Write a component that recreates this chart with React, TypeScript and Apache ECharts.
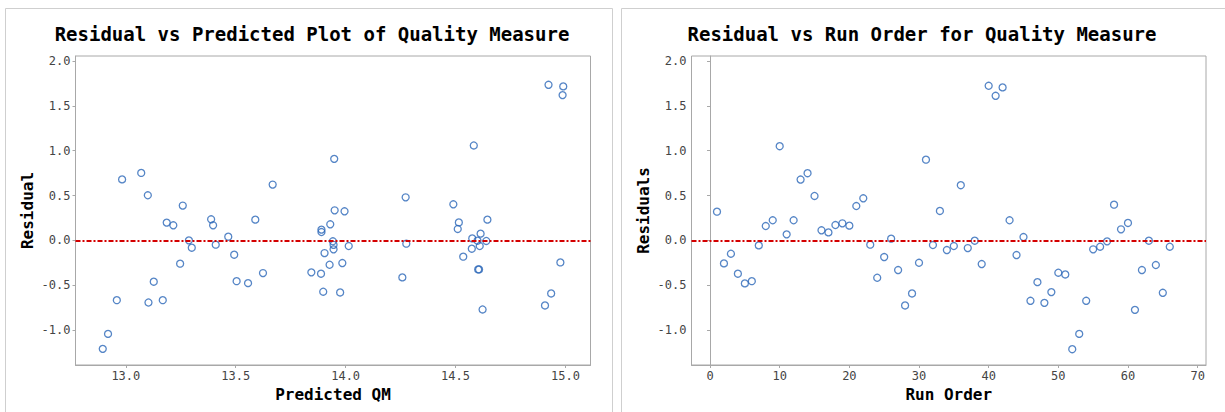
import React, { useEffect, useRef } from "react";
import * as echarts from "echarts";

// Left plot: predicted QM vs residual
const predictedQM = [
  12.895, 12.919, 12.959, 12.983, 13.07, 13.1, 13.103, 13.127, 13.168, 13.186,
  13.216, 13.247, 13.259, 13.287, 13.3, 13.388, 13.397, 13.409, 13.466, 13.493,
  13.504, 13.556, 13.589, 13.624, 13.668, 13.844, 13.888, 13.89, 13.89, 13.898,
  13.904, 13.927, 13.93, 13.942, 13.945, 13.945, 13.948, 13.95, 13.975, 13.985,
  13.995, 14.014, 14.258, 14.273, 14.276, 14.49, 14.51, 14.515, 14.535, 14.574,
  14.576, 14.583, 14.6, 14.603, 14.607, 14.61, 14.614, 14.623, 14.64, 14.645,
  14.907, 14.923, 14.935, 14.977, 14.987, 14.99,
];
const residualVsPred = [
  -1.21, -1.043, -0.667, 0.68, 0.752, 0.503, -0.693, -0.461, -0.667, 0.198,
  0.168, -0.26, 0.388, 0.0, -0.082, 0.235, 0.168, -0.048, 0.041, -0.16,
  -0.455, -0.477, 0.231, -0.365, 0.622, -0.357, -0.372, 0.12, 0.093, -0.573,
  -0.142, -0.272, 0.179, -0.01, -0.05, -0.1, 0.909, 0.335, -0.581, -0.253,
  0.324, -0.063, -0.413, 0.48, -0.037, 0.402, 0.127, 0.2, -0.182, -0.093,
  0.022, 1.058, -0.004, -0.324, -0.324, -0.063, 0.075, -0.771, -0.007, 0.231,
  -0.726, 1.735, -0.592, -0.246, 1.62, 1.717,
];

// Right plot: run order vs residual
const runOrder = [
  1, 2, 3, 4, 5, 6, 7, 8, 9, 10, 11, 12, 13, 14, 15, 16, 17, 18, 19, 20, 21, 22,
  23, 24, 25, 26, 27, 28, 29, 30, 31, 32, 33, 34, 35, 36, 37, 38, 39, 40, 41, 42,
  43, 44, 45, 46, 47, 48, 49, 50, 51, 52, 53, 54, 55, 56, 57, 58, 59, 60, 61, 62,
  63, 64, 65, 66,
];
const residualByRun = [
  0.32, -0.257, -0.149, -0.372, -0.48, -0.455, -0.056, 0.16, 0.224, 1.05,
  0.067, 0.224, 0.678, 0.749, 0.495, 0.112, 0.089, 0.171, 0.19, 0.164,
  0.383, 0.469, -0.048, -0.417, -0.186, 0.019, -0.331, -0.726, -0.592, -0.25,
  0.9, -0.052, 0.328, -0.108, -0.063, 0.615, -0.086, -0.004, -0.264, 1.724,
  1.612, 1.706, 0.224, -0.164, 0.037, -0.674, -0.466, -0.697, -0.577, -0.361,
  -0.38, -1.214, -1.043, -0.674, -0.1, -0.071, -0.011, 0.398, 0.123, 0.194,
  -0.775, -0.331, -0.004, -0.275, -0.585, -0.071,
];

const yTicks = [-1, -0.5, 0, 0.5, 1, 1.5, 2];
const predTicks = [13, 13.5, 14, 14.5, 15];
const runTicks = [0, 10, 20, 30, 40, 50, 60, 70];

const titles = [
  "Residual vs Predicted Plot of Quality Measure",
  "Residual vs Run Order for Quality Measure",
];

const MONO = "'DejaVu Sans Mono', 'Liberation Mono', monospace";
const AXIS_GRAY = "#a8a8a8";
const MARK = "#2a66b8";

function xAxisCfg(gridIndex: number, min: number, max: number, ticks: number[], name: string, dec: number) {
  return {
    type: "value",
    gridIndex,
    min,
    max,
    name,
    nameLocation: "middle",
    nameGap: 15,
    nameTextStyle: { fontFamily: MONO, fontWeight: "bold", fontSize: 16, color: "#000" },
    axisLine: { show: true, onZero: false, lineStyle: { color: AXIS_GRAY } },
    axisTick: { show: true, length: 3, customValues: ticks, lineStyle: { color: AXIS_GRAY } },
    axisLabel: {
      customValues: ticks,
      formatter: (v: number) => v.toFixed(dec),
      fontFamily: MONO,
      fontSize: 12,
      color: "#444",
      margin: 5,
    },
    splitLine: { show: false },
  };
}

function yAxisCfg(gridIndex: number, name: string) {
  return {
    type: "value",
    gridIndex,
    min: -1.39,
    max: 2.056,
    name,
    nameLocation: "middle",
    nameGap: 40,
    nameTextStyle: { fontFamily: MONO, fontWeight: "bold", fontSize: 16, color: "#000" },
    axisLine: { show: true, lineStyle: { color: AXIS_GRAY } },
    axisTick: { show: true, length: 3, customValues: yTicks, lineStyle: { color: AXIS_GRAY } },
    axisLabel: {
      customValues: yTicks,
      formatter: (v: number) => v.toFixed(1),
      fontFamily: MONO,
      fontSize: 12,
      color: "#444",
      margin: 5,
    },
    splitLine: { show: false },
  };
}

const zeroLine = {
  silent: true,
  symbol: ["none", "none"],
  label: { show: false },
  lineStyle: { color: "#d40000", type: [5, 2, 2, 2], width: 2 },
  data: [{ yAxis: 0 }],
};

export default function App() {
  const ref = useRef<HTMLDivElement>(null);
  useEffect(() => {
    if (!ref.current) return;
    const chart = echarts.init(ref.current, null, { renderer: "svg" });
    const leftData = predictedQM.map((x, i) => [x, residualVsPred[i]]);
    const rightData = runOrder.map((x, i) => [x, residualByRun[i]]);
    const itemStyle = { color: "rgba(255,255,255,0)", borderColor: MARK, borderWidth: 1.3 };
    chart.setOption({
      animation: false,
      backgroundColor: "#fff",
      graphic: [
        {
          type: "rect",
          shape: { x: 5.5, y: 8.5, width: 607, height: 420 },
          style: { fill: "none", stroke: "#cfcfcf", lineWidth: 1 },
          silent: true,
        },
        {
          type: "rect",
          shape: { x: 621.5, y: 8.5, width: 640, height: 420 },
          style: { fill: "none", stroke: "#cfcfcf", lineWidth: 1 },
          silent: true,
        },
        {
          type: "text",
          x: 312,
          y: 34,
          style: {
            text: titles[0],
            font: `bold 19px ${MONO}`,
            fill: "#000",
            align: "center",
            verticalAlign: "middle",
          },
        },
        {
          type: "text",
          x: 922,
          y: 34,
          style: {
            text: titles[1],
            font: `bold 19px ${MONO}`,
            fill: "#000",
            align: "center",
            verticalAlign: "middle",
          },
        },
      ],
      grid: [
        { left: 75.5, top: 56, width: 515, height: 309, show: true, borderColor: AXIS_GRAY, borderWidth: 1, backgroundColor: "transparent" },
        { left: 691.5, top: 56, width: 514.5, height: 309, show: true, borderColor: AXIS_GRAY, borderWidth: 1, backgroundColor: "transparent" },
      ],
      xAxis: [
        xAxisCfg(0, 12.771, 15.114, predTicks, "Predicted QM", 1),
        xAxisCfg(1, -2.66, 71.2, runTicks, "Run Order", 0),
      ],
      yAxis: [yAxisCfg(0, "Residual"), yAxisCfg(1, "Residuals")],
      series: [
        {
          type: "scatter",
          xAxisIndex: 0,
          yAxisIndex: 0,
          data: leftData,
          symbol: "circle",
          symbolSize: 7,
          itemStyle,
          markLine: zeroLine,
          z: 3,
        },
        {
          type: "scatter",
          xAxisIndex: 1,
          yAxisIndex: 1,
          data: rightData,
          symbol: "circle",
          symbolSize: 7,
          itemStyle,
          markLine: zeroLine,
          z: 3,
        },
      ],
    });
    return () => chart.dispose();
  }, []);
  return (
    <div
      ref={ref}
      style={{ position: "fixed", left: 0, top: 0, width: 1225, height: 412 }}
    />
  );
}
